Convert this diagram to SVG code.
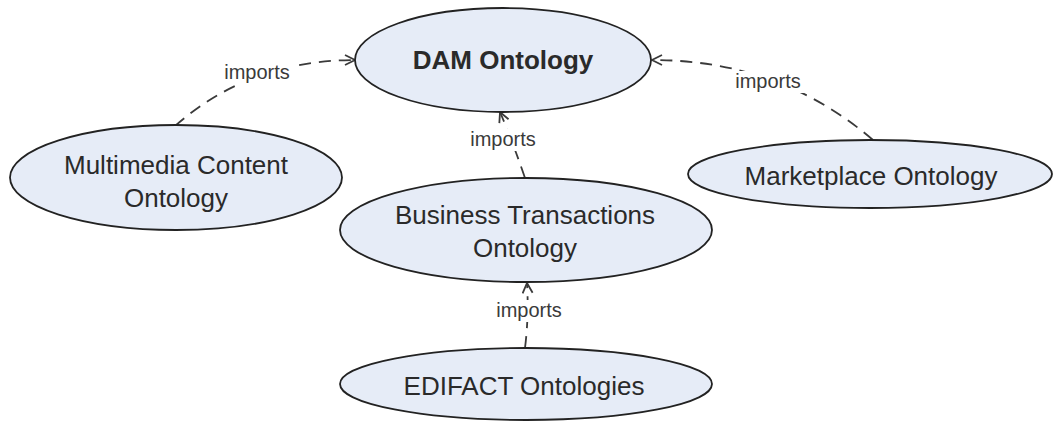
<svg xmlns="http://www.w3.org/2000/svg" width="1053" height="421" viewBox="0 0 1053 421">
  <style>
    .node ellipse { fill: #e6ecf7; stroke: #222; stroke-width: 1.8; }
    .node text { font-family: "Liberation Sans", Arial, sans-serif; font-size: 26px; fill: #2a2a2a; text-anchor: middle; }
    .node text.bold { font-weight: bold; }
    .edge { fill: none; stroke: #3a3a3a; stroke-width: 1.8; stroke-dasharray: 12 8; marker-end: url(#open); }
    .lbl-bg { fill: #fff; }
    .lbl { font-family: "Liberation Sans", Arial, sans-serif; font-size: 20px; fill: #3a3a3a; text-anchor: middle; }
  </style>
  <defs>
    <marker id="open" viewBox="0 0 12 12" refX="11" refY="6" markerWidth="12" markerHeight="12" markerUnits="userSpaceOnUse" orient="auto">
      <path d="M1,1 L11,6 L1,11" fill="none" stroke="#3a3a3a" stroke-width="1.8" stroke-dasharray="none"/>
    </marker>
  </defs>

  <rect width="1053" height="421" fill="#fff"/>

  <!-- import relations -->
  <g id="connectors">
    <path class="edge" d="M175,126 Q250,60 355,60"/>
    <path class="edge" d="M525,178 Q512,140 500,112"/>
    <path class="edge" d="M873,140 Q780,60 652,60"/>
    <path class="edge" d="M525,348 Q529,316 527,283"/>
    <rect class="lbl-bg" x="222" y="62" width="71" height="22"/>
    <text class="lbl" x="257" y="79">imports</text>
    <rect class="lbl-bg" x="468" y="129" width="71" height="22"/>
    <text class="lbl" x="503" y="146">imports</text>
    <rect class="lbl-bg" x="733" y="71" width="71" height="22"/>
    <text class="lbl" x="768" y="88">imports</text>
    <rect class="lbl-bg" x="494" y="300" width="71" height="22"/>
    <text class="lbl" x="529" y="317">imports</text>
  </g>

  <g id="dam" class="node">
    <ellipse cx="503" cy="60" rx="148" ry="52"/>
    <text class="bold" x="503" y="69">DAM Ontology</text>
  </g>

  <g id="multimedia" class="node">
    <ellipse cx="176" cy="177.5" rx="166" ry="52.5"/>
    <text x="176" y="174">Multimedia Content</text>
    <text x="176" y="207">Ontology</text>
  </g>

  <g id="marketplace" class="node">
    <ellipse cx="870" cy="174" rx="182" ry="34"/>
    <text x="871" y="185">Marketplace Ontology</text>
  </g>

  <g id="business" class="node">
    <ellipse cx="526" cy="230" rx="186" ry="52"/>
    <text x="525" y="224">Business Transactions</text>
    <text x="525" y="257">Ontology</text>
  </g>

  <g id="edifact" class="node">
    <ellipse cx="526" cy="384" rx="186" ry="36"/>
    <text x="524" y="395">EDIFACT Ontologies</text>
  </g>
</svg>
